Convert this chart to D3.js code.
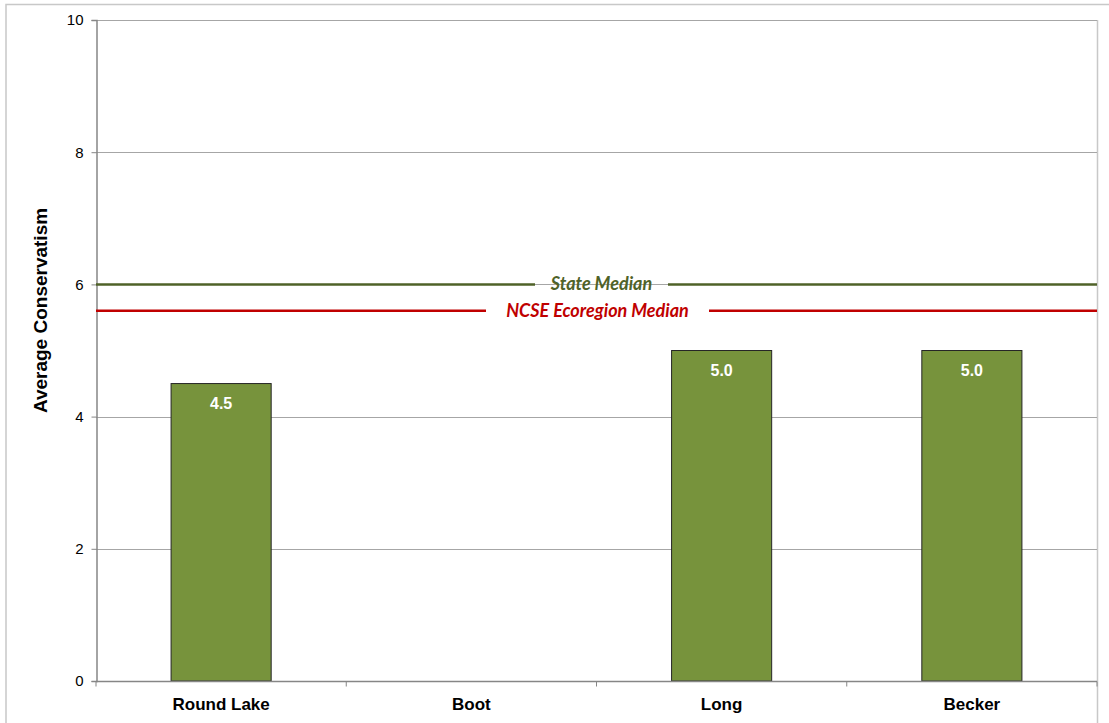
<!DOCTYPE html>
<html><head><meta charset="utf-8">
<script src="https://cdn.jsdelivr.net/npm/d3@7"></script>
<style>body{margin:0;background:#fff}svg{display:block}</style>
</head><body>
<script>
const categories = ["Round Lake", "Boot", "Long", "Becker"];
const values = [4.5, null, 5.0, 5.0];
const yTicks = [0, 2, 4, 6, 8, 10];
const medians = [
  {label: "State Median", value: 6.0, color: "#4F6228", gap: [535, 668]},
  {label: "NCSE Ecoregion Median", value: 5.6, color: "#C00000", gap: [486, 709]}
];

const W = 1109, H = 723;
const m = {left: 96, right: 1097, top: 20, bottom: 681};
const svg = d3.select("body").append("svg").attr("width", W).attr("height", H);

// outer border
svg.append("path").attr("d", `M6,${H} V4.5 H${W}`).attr("fill","none").attr("stroke","#c8c8c8").attr("stroke-width",1.5);
svg.append("line").attr("x1",1097.5).attr("x2",1097.5).attr("y1",20).attr("y2",H).attr("stroke","#c8c8c8").attr("stroke-width",1.5);

const x = d3.scaleBand().domain(categories).range([m.left, m.right]).paddingInner(0).paddingOuter(0);
const y = d3.scaleLinear().domain([0, 10]).range([m.bottom, m.top]);

// gridlines
svg.append("g").selectAll("line").data(yTicks.filter(d => d > 0)).join("line")
  .attr("x1", m.left).attr("x2", m.right)
  .attr("y1", d => Math.round(y(d)) + 0.5).attr("y2", d => Math.round(y(d)) + 0.5)
  .attr("stroke", "#a6a6a6").attr("stroke-width", 1);

// y axis
const ya = svg.append("g").attr("transform", `translate(${m.left + 0.5},0)`)
  .call(d3.axisLeft(y).tickValues(yTicks).tickSize(5).tickPadding(8).tickFormat(d3.format("d")));
ya.select(".domain").attr("stroke", "#868686").attr("stroke-width", 1.5);
ya.selectAll(".tick line").attr("stroke", "#868686");
ya.selectAll("text").attr("font-family", "Arial, 'Liberation Sans', sans-serif").attr("font-size", 15).attr("fill", "#000");

// bars
const bw = x.bandwidth() * 0.4;
svg.append("g").selectAll("rect").data(categories.map((c, i) => ({c, v: values[i]})).filter(d => d.v != null)).join("rect")
  .attr("x", d => x(d.c) + (x.bandwidth() - bw) / 2)
  .attr("width", bw)
  .attr("y", d => y(d.v))
  .attr("height", d => y(0) - y(d.v))
  .attr("fill", "#77933C").attr("stroke", "#262626").attr("stroke-width", 1);

// bar value labels
svg.append("g").selectAll("text").data(categories.map((c, i) => ({c, v: values[i]})).filter(d => d.v != null)).join("text")
  .attr("x", d => x(d.c) + x.bandwidth() / 2)
  .attr("y", d => y(d.v) + 25)
  .attr("text-anchor", "middle")
  .attr("font-family", "Arial, 'Liberation Sans', sans-serif").attr("font-weight", "bold").attr("font-size", 16)
  .attr("fill", "#fff").text(d => d3.format(".1f")(d.v));

// x axis
const xa = svg.append("g").attr("transform", `translate(0,${m.bottom + 0.5})`);
xa.append("line").attr("x1", m.left).attr("x2", m.right).attr("stroke", "#868686").attr("stroke-width", 1.5);
const bounds = categories.map(c => x(c)).concat([m.right]);
xa.selectAll("line.t").data(bounds).join("line").attr("class","t")
  .attr("x1", d => d).attr("x2", d => d).attr("y1", 0).attr("y2", 5).attr("stroke", "#868686");
xa.selectAll("text").data(categories).join("text")
  .attr("x", d => x(d) + x.bandwidth() / 2).attr("y", 28)
  .attr("text-anchor", "middle")
  .attr("font-family", "Arial, 'Liberation Sans', sans-serif").attr("font-weight", "bold").attr("font-size", 17)
  .attr("fill", "#000").text(d => d);

// median lines
medians.forEach(md => {
  const yy = y(md.value);
  const g = svg.append("g");
  g.append("line").attr("x1", m.left).attr("x2", md.gap[0]).attr("y1", yy).attr("y2", yy).attr("stroke", md.color).attr("stroke-width", 2.5);
  g.append("line").attr("x1", md.gap[1]).attr("x2", m.right).attr("y1", yy).attr("y2", yy).attr("stroke", md.color).attr("stroke-width", 2.5);
  g.append("text").attr("x", (md.gap[0] + md.gap[1]) / 2).attr("y", yy + 6)
    .attr("text-anchor", "middle")
    .attr("font-family", "Lato, 'Open Sans', sans-serif").attr("font-style", "italic").attr("font-weight", "bold").attr("font-size", 18)
    .attr("fill", md.color).text(md.label);
});

// y title
svg.append("text").attr("transform", `translate(47,${(m.top + m.bottom) / 2 - 40}) rotate(-90)`)
  .attr("text-anchor", "middle")
  .attr("font-family", "Arial, 'Liberation Sans', sans-serif").attr("font-weight", "bold").attr("font-size", 19)
  .attr("fill", "#000").text("Average Conservatism");
</script>
</body></html>
